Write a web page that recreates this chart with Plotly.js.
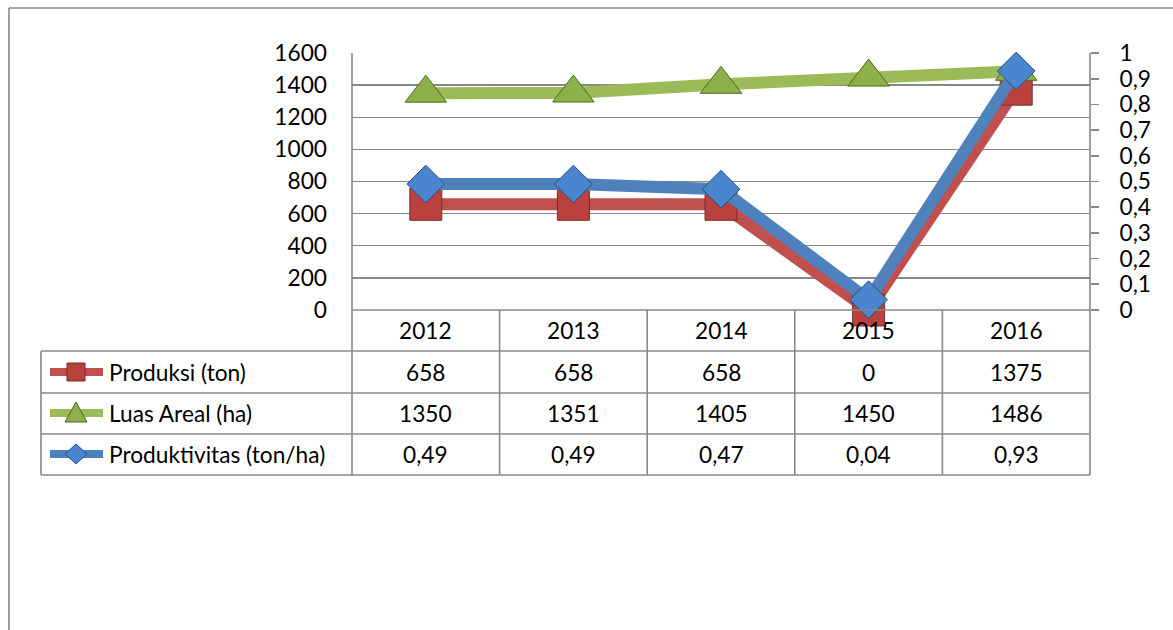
<!DOCTYPE html>
<html>
<head>
<meta charset="utf-8">
<script src="https://cdn.plot.ly/plotly-3.0.1.min.js"></script>
<style>
html,body{margin:0;padding:0;background:#fff;}
#chart{width:1173px;height:630px;}
</style>
</head>
<body>
<div id="chart"></div>
<script>
// ---- data ----
const years = ['2012', '2013', '2014', '2015', '2016'];
const produksi = [658, 658, 658, 0, 1375];
const luasAreal = [1350, 1351, 1405, 1450, 1486];
const produktivitas = [0.49, 0.49, 0.47, 0.04, 0.93];
const seriesNames = ['Produksi (ton)', 'Luas Areal (ha)', 'Produktivitas (ton/ha)'];

// ---- styles ----
const FONT = 'Lato, "Liberation Sans", sans-serif';
const FS = 22.7;
const GRID = '#888888';
const colors = ['#C0504D', '#9BBB59', '#4F81BD'];
const markerFill = ['#B9413E', '#8DB04A', '#4A86CF'];
const markerLine = ['#7F2A28', '#4E6B22', '#2A4C78'];

// plot area in pixels
const L = 352, R = 1090, T = 53, B = 310;
const W = R - L, H = B - T;
const px = x => (x - L) / W;
const py = y => (B - y) / H;

const rowEdges = [310, 351, 393, 434, 475];
const rowCenters = [330, 372, 413, 454];
const colW = W / years.length;

function fmtComma(v) { return v.toFixed(2).replace('.', ','); }
const tableRows = [
  produksi.map(v => String(v)),
  luasAreal.map(v => String(v)),
  produktivitas.map(fmtComma)
];

const traces = [
  {
    x: years, y: produksi, name: seriesNames[0], type: 'scatter', mode: 'lines+markers',
    line: {color: colors[0], width: 12},
    marker: {symbol: 'square', size: 32, color: markerFill[0], line: {color: markerLine[0], width: 1}},
    cliponaxis: false, yaxis: 'y'
  },
  {
    x: years, y: luasAreal, name: seriesNames[1], type: 'scatter', mode: 'lines+markers',
    line: {color: colors[1], width: 12},
    marker: {symbol: 'triangle-up', size: 36, color: markerFill[1], line: {color: markerLine[1], width: 1}},
    cliponaxis: false, yaxis: 'y'
  },
  {
    x: years, y: produktivitas, name: seriesNames[2], type: 'scatter', mode: 'lines+markers',
    line: {color: colors[2], width: 12},
    marker: {symbol: 'diamond', size: 29, color: markerFill[2], line: {color: markerLine[2], width: 1}},
    cliponaxis: false, yaxis: 'y2'
  }
];

const shapes = [];
const annotations = [];
const lineStyle = {color: GRID, width: 1.6};

// outer frame
shapes.push({type: 'line', xref: 'paper', yref: 'paper', x0: px(9), x1: px(9), y0: py(8), y1: py(640), line: lineStyle});
shapes.push({type: 'line', xref: 'paper', yref: 'paper', x0: px(9), x1: px(1180), y0: py(8), y1: py(8), line: lineStyle});

// table vertical lines (data columns)
for (let k = 0; k <= years.length; k++) {
  const xx = L + k * colW;
  shapes.push({type: 'line', xref: 'paper', yref: 'paper', x0: px(xx), x1: px(xx), y0: py(k === 0 || k === years.length ? T : B), y1: py(475), line: lineStyle});
}
// table horizontal lines
rowEdges.forEach((ye, i) => {
  shapes.push({type: 'line', xref: 'paper', yref: 'paper', x0: px(i === 0 ? L : 41), x1: px(R), y0: py(ye), y1: py(ye), line: lineStyle});
});
// left column border
shapes.push({type: 'line', xref: 'paper', yref: 'paper', x0: px(41), x1: px(41), y0: py(351), y1: py(475), line: lineStyle});

// year labels in header row
years.forEach((yr, k) => {
  annotations.push({xref: 'paper', yref: 'paper', x: px(L + (k + 0.5) * colW), y: py(rowCenters[0]),
    text: yr, showarrow: false, xanchor: 'center', yanchor: 'middle', font: {family: FONT, size: FS, color: '#000'}});
});
// table values
tableRows.forEach((row, r) => {
  row.forEach((txt, k) => {
    annotations.push({xref: 'paper', yref: 'paper', x: px(L + (k + 0.5) * colW), y: py(rowCenters[r + 1]),
      text: txt, showarrow: false, xanchor: 'center', yanchor: 'middle', font: {family: FONT, size: FS, color: '#000'}});
  });
});
// legend keys + names
const symbolPaths = [
  (cx, cy) => `M${px(cx-9)},${py(cy-9)} L${px(cx+9)},${py(cy-9)} L${px(cx+9)},${py(cy+9)} L${px(cx-9)},${py(cy+9)} Z`,
  (cx, cy) => `M${px(cx)},${py(cy-11)} L${px(cx+11)},${py(cy+9)} L${px(cx-11)},${py(cy+9)} Z`,
  (cx, cy) => `M${px(cx)},${py(cy-10)} L${px(cx+11)},${py(cy)} L${px(cx)},${py(cy+10)} L${px(cx-11)},${py(cy)} Z`
];
seriesNames.forEach((nm, r) => {
  const cy = rowCenters[r + 1];
  shapes.push({type: 'line', xref: 'paper', yref: 'paper', x0: px(50), x1: px(103), y0: py(cy), y1: py(cy),
    line: {color: colors[r], width: 8}});
  shapes.push({type: 'path', xref: 'paper', yref: 'paper', path: symbolPaths[r](76, cy),
    fillcolor: markerFill[r], line: {color: markerLine[r], width: 1}});
  annotations.push({xref: 'paper', yref: 'paper', x: px(107), y: py(cy), text: nm, showarrow: false,
    xanchor: 'left', yanchor: 'middle', font: {family: FONT, size: FS, color: '#000'}});
});

const layout = {
  width: 1173, height: 630,
  margin: {l: L, r: 1173 - R, t: T, b: 630 - B, pad: 0},
  paper_bgcolor: '#fff', plot_bgcolor: '#fff',
  showlegend: false,
  separators: ',.',
  font: {family: FONT, size: FS, color: '#000'},
  xaxis: {type: 'category', range: [-0.5, years.length - 0.5], showticklabels: false, ticks: '',
    showgrid: false, zeroline: false, showline: false, fixedrange: true},
  yaxis: {range: [0, 1600], dtick: 200, showgrid: true, gridcolor: GRID, gridwidth: 1.4,
    zeroline: false, showline: false, ticks: '', ticklabelstandoff: 24,
    tickfont: {family: FONT, size: FS, color: '#000'}, fixedrange: true},
  yaxis2: {overlaying: 'y', side: 'right', range: [0, 1], dtick: 0.1, showgrid: false, zeroline: false,
    showline: false, ticks: 'outside', ticklen: 8, tickwidth: 1.6, tickcolor: GRID, ticklabelstandoff: 16,
    tickformat: '.1~f',
    tickfont: {family: FONT, size: FS, color: '#000'}, fixedrange: true},
  shapes: shapes,
  annotations: annotations
};

Plotly.newPlot('chart', traces, layout, {staticPlot: true, displayModeBar: false});
</script>
</body>
</html>
